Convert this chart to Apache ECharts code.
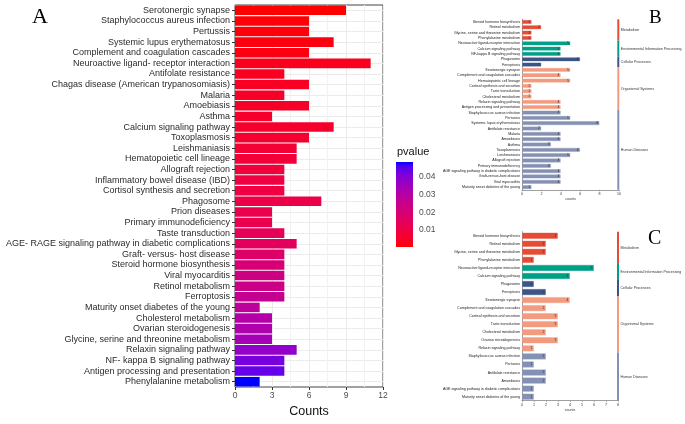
<!DOCTYPE html>
<html><head><meta charset="utf-8">
<script src="https://cdn.jsdelivr.net/npm/echarts@6/dist/echarts.min.js"></script>
<style>html,body{margin:0;padding:0;background:#fff}#c{width:685px;height:424px}</style>
</head><body><div id="c"></div>
<script>
// ---------- Panel A data ----------
const catsA = ['Serotonergic synapse','Staphylococcus aureus infection','Pertussis','Systemic lupus erythematosus','Complement and coagulation cascades','Neuroactive ligand- receptor interaction','Antifolate resistance','Chagas disease (American trypanosomiasis)','Malaria','Amoebiasis','Asthma','Calcium signaling pathway','Toxoplasmosis','Leishmaniasis','Hematopoietic cell lineage','Allograft rejection','Inflammatory bowel disease (IBD)','Cortisol synthesis and secretion','Phagosome','Prion diseases','Primary immunodeficiency','Taste transduction','AGE- RAGE signaling pathway in diabetic complications','Graft- versus- host disease','Steroid hormone biosynthesis','Viral myocarditis','Retinol metabolism','Ferroptosis','Maturity onset diabetes of the young','Cholesterol metabolism','Ovarian steroidogenesis','Glycine, serine and threonine metabolism','Relaxin signaling pathway','NF- kappa B signaling pathway','Antigen processing and presentation','Phenylalanine metabolism'];
const countsA = [9,6,6,8,6,11,4,6,4,6,3,8,6,5,5,4,4,4,7,3,3,4,5,4,4,4,4,4,2,3,3,3,5,4,4,2];
const pvalsA = [0.0002,0.0008,0.0010,0.0015,0.0018,0.0030,0.0035,0.0040,0.0045,0.0048,0.0052,0.0055,0.0060,0.0070,0.0075,0.0085,0.0090,0.0095,0.0105,0.0115,0.0120,0.0140,0.0150,0.0170,0.0200,0.0230,0.0240,0.0260,0.0280,0.0310,0.0320,0.0340,0.0380,0.0420,0.0440,0.0486];
const xTicksA = {min:0, max:12, step:3};
const pTicks = [0.01,0.02,0.03,0.04];

// ---------- Panels B / C data ----------
const groupNames = ['Metabolism','Environmental Information Processing','Cellular Processes','Organismal Systems','Human Diseases'];
const catsB = ['Steroid hormone biosynthesis','Retinol metabolism','Glycine, serine and threonine metabolism','Phenylalanine metabolism','Neuroactive ligand-receptor interaction','Calcium signaling pathway','NF-kappa B signaling pathway','Phagosome','Ferroptosis','Serotonergic synapse','Complement and coagulation cascades','Hematopoietic cell lineage','Cortisol synthesis and secretion','Taste transduction','Cholesterol metabolism','Relaxin signaling pathway','Antigen processing and presentation','Staphylococcus aureus infection','Pertussis','Systemic lupus erythematosus','Antifolate resistance','Malaria','Amoebiasis','Asthma','Toxoplasmosis','Leishmaniasis','Allograft rejection','Primary immunodeficiency','AGE signaling pathway in diabetic complications','Graft-versus-host disease','Viral myocarditis','Maturity onset diabetes of the young'];
const countsB = [1,2,1,1,5,4,4,6,2,5,4,5,1,1,1,4,4,4,5,8,2,4,4,3,6,5,4,3,4,4,4,1];
const groupsB = [0,0,0,0,1,1,1,2,2,3,3,3,3,3,3,3,3,4,4,4,4,4,4,4,4,4,4,4,4,4,4,4];
const xMaxB = 10, xStepB = 2;

const catsC = ['Steroid hormone biosynthesis','Retinol metabolism','Glycine, serine and threonine metabolism','Phenylalanine metabolism','Neuroactive ligand-receptor interaction','Calcium signaling pathway','Phagosome','Ferroptosis','Serotonergic synapse','Complement and coagulation cascades','Cortisol synthesis and secretion','Taste transduction','Cholesterol metabolism','Ovarian steroidogenesis','Relaxin signaling pathway','Staphylococcus aureus infection','Pertussis','Antifolate resistance','Amoebiasis','AGE signaling pathway in diabetic complications','Maturity onset diabetes of the young'];
const countsC = [3,2,2,1,6,4,1,2,4,2,3,3,2,3,1,2,1,2,2,1,1];
const groupsC = [0,0,0,0,1,1,2,2,3,3,3,3,3,3,3,4,4,4,4,4,4];
const xMaxC = 8, xStepC = 1;

// ---------- styling ----------
const groupColors = ['#E64B35','#00A087','#3C5488','#F39B7F','#8491B4'];
const SANS = "'Liberation Sans', Arial, sans-serif";
const SERIF = "'Liberation Serif', 'Times New Roman', serif";

// Lab interpolation red -> blue (like ggplot gradient)
function s2l(c){c/=255;return c<=0.04045?c/12.92:Math.pow((c+0.055)/1.055,2.4);}
function l2s(c){c=Math.max(0,Math.min(1,c));return Math.round(255*(c<=0.0031308?12.92*c:1.055*Math.pow(c,1/2.4)-0.055));}
function toLab(rgb){const r=s2l(rgb[0]),g=s2l(rgb[1]),b=s2l(rgb[2]);
  const X=(0.4124*r+0.3576*g+0.1805*b)/0.95047,Y=0.2126*r+0.7152*g+0.0722*b,Z=(0.0193*r+0.1192*g+0.9505*b)/1.08883;
  const f=t=>t>0.008856?Math.cbrt(t):7.787*t+16/116;const fx=f(X),fy=f(Y),fz=f(Z);
  return [116*fy-16,500*(fx-fy),200*(fy-fz)];}
function fromLab(l){const fy=(l[0]+16)/116,fx=fy+l[1]/500,fz=fy-l[2]/200;
  const fi=t=>t*t*t>0.008856?t*t*t:(t-16/116)/7.787;const X=fi(fx)*0.95047,Y=fi(fy),Z=fi(fz)*1.08883;
  return 'rgb('+l2s(3.2406*X-1.5372*Y-0.4986*Z)+','+l2s(-0.9689*X+1.8758*Y+0.0415*Z)+','+l2s(0.0557*X-0.2040*Y+1.0570*Z)+')';}
const labLo=toLab([255,0,0]), labHi=toLab([0,0,255]);
const N=24, rampColors=[];
for(let i=0;i<=N;i++){const t=i/N;rampColors.push(fromLab([0,1,2].map(k=>labLo[k]+(labHi[k]-labLo[k])*t)));}
const pMin=Math.min(...pvalsA), pMax=Math.max(...pvalsA);

function hexA(h,a){const n=parseInt(h.slice(1),16);return 'rgba('+(n>>16)+','+((n>>8)&255)+','+(n&255)+','+a+')';}

function groupSizes(groups){const s=groupNames.map(()=>0);groups.forEach(g=>s[g]++);return s;}

const chart = echarts.init(document.getElementById('c'), null, {renderer:'canvas'});

const tiny = 3.6;
function sidePanel(gi, cats, counts, groups, xMax, xStep, geom){
  const grids=[{left:geom.left,top:geom.top,width:geom.width,height:geom.height},
               {left:geom.stripX,top:geom.top,width:2,height:geom.height}];
  const xAxes=[{gridIndex:gi,type:'value',min:0,max:xMax,interval:xStep,
      axisLine:{show:true,lineStyle:{color:'#888',width:0.8}},
      axisTick:{show:true,length:1.5,lineStyle:{color:'#888',width:0.6}},
      axisLabel:{fontSize:tiny,color:'#333',margin:2,fontFamily:SANS},
      splitLine:{show:false},
      name:'counts',nameLocation:'middle',nameGap:6.5,nameTextStyle:{fontSize:tiny,color:'#333',fontFamily:SANS}},
    {gridIndex:gi+1,type:'category',data:['s'],show:false}];
  const yAxes=[{gridIndex:gi,type:'category',data:cats,inverse:true,
      axisLine:{show:true,lineStyle:{color:'#888',width:0.8}},
      axisTick:{show:false},
      axisLabel:{fontSize:tiny,color:'#222',margin:2,interval:0,fontFamily:SANS},
      splitLine:{show:false}},
    {gridIndex:gi+1,type:'value',min:0,max:cats.length,inverse:true,show:false}];
  const series=[{type:'bar',xAxisIndex:geom.xi,yAxisIndex:geom.yi,barCategoryGap:'20%',
      data:counts.map((v,i)=>({value:v,itemStyle:{color:groupColors[groups[i]],borderColor:hexA(groupColors[groups[i]],0.35),borderWidth:1}})),
      label:{show:true,position:'insideRight',distance:1.5,fontSize:3.4,color:'#333',fontFamily:SANS}}];
  const sizes=groupSizes(groups);
  sizes.forEach((s,k)=>{ if(!s) return;
    series.push({type:'bar',xAxisIndex:geom.xi+1,yAxisIndex:geom.yi+1,stack:'g'+gi,barWidth:'100%',
      data:[s],itemStyle:{color:groupColors[k]},
      label:{show:true,position:'right',distance:1.5,formatter:groupNames[k],fontSize:tiny,color:'#333',fontFamily:SANS}});
  });
  return {grids,xAxes,yAxes,series};
}

const B = sidePanel(2, catsB, countsB, groupsB, xMaxB, xStepB, {left:522,top:19.3,width:97,height:170.5,stripX:617.3,xi:2,yi:2});
const C = sidePanel(4, catsC, countsC, groupsC, xMaxC, xStepC, {left:522,top:231.7,width:96,height:169,stripX:617,xi:4,yi:4});

const gradStops = rampColors.map((c,i)=>({offset:i/N,color:c}));

const option = {
  animation:false,
  backgroundColor:'#fff',
  textStyle:{fontFamily:SANS},
  grid:[
    {left:235,top:5,width:148,height:382,show:true,borderColor:'#444',borderWidth:1,backgroundColor:'transparent'},
    {left:396,top:162,width:17,height:85}
  ].concat(B.grids, C.grids),
  xAxis:[
    {gridIndex:0,type:'value',min:xTicksA.min,max:xTicksA.max,interval:xTicksA.step,
     axisLine:{show:false},axisTick:{show:true,length:3,lineStyle:{color:'#333'}},
     axisLabel:{fontSize:8.5,color:'#4D4D4D',margin:4},
     splitLine:{show:true,lineStyle:{color:'#EBEBEB',width:1}},
     minorTick:{show:false,splitNumber:2},
     minorSplitLine:{show:true,lineStyle:{color:'#F2F2F2',width:1}},
     name:'Counts',nameLocation:'middle',nameGap:14,nameTextStyle:{fontSize:12.5,color:'#111'}},
    {gridIndex:1,type:'category',data:['p'],show:false}
  ].concat(B.xAxes, C.xAxes),
  yAxis:[
    {gridIndex:0,type:'category',data:catsA,inverse:true,
     axisLine:{show:false},axisTick:{show:true,alignWithLabel:true,length:3,lineStyle:{color:'#333'}},
     axisLabel:{fontSize:9,color:'#2b2b2b',margin:5,interval:0},
     splitLine:{show:true,alignWithLabel:true,lineStyle:{color:'#EBEBEB',width:1}}},
    {gridIndex:1,type:'value',min:pMin,max:pMax,position:'right',
     axisLine:{show:false},
     axisTick:{show:true,inside:true,length:3.5,customValues:pTicks,lineStyle:{color:'#fff',width:1}},
     axisLabel:{show:true,customValues:pTicks,formatter:v=>v.toFixed(2),fontSize:8.5,color:'#4D4D4D',margin:6},
     splitLine:{show:false}},
    {gridIndex:1,type:'value',min:pMin,max:pMax,position:'left',
     axisLine:{show:false},
     axisTick:{show:true,inside:true,length:3.5,customValues:pTicks,lineStyle:{color:'#fff',width:1}},
     axisLabel:{show:false},splitLine:{show:false}}
  ].concat(B.yAxes.map(a=>Object.assign({},a)), C.yAxes),
  visualMap:[{type:'continuous',show:false,seriesIndex:0,dimension:2,min:pMin,max:pMax,inRange:{color:rampColors}}],
  series:[
    {type:'bar',xAxisIndex:0,yAxisIndex:0,barCategoryGap:'10%',encode:{x:0,y:1},
     data:catsA.map((c,i)=>[countsA[i],c,pvalsA[i]])},
    {type:'bar',xAxisIndex:1,yAxisIndex:1,barWidth:'100%',z:1,
     data:[pMax],itemStyle:{color:new echarts.graphic.LinearGradient(0,1,0,0,gradStops)}}
  ].concat(B.series, C.series),
  graphic:[
    {type:'text',left:397,top:146,style:{text:'pvalue',fontSize:11,fill:'#111',fontFamily:SANS}},
    {type:'text',left:32,top:6,style:{text:'A',fontSize:22,fill:'#000',fontFamily:SERIF}},
    {type:'text',left:649,top:9,style:{text:'B',fontSize:19,fill:'#000',fontFamily:SERIF}},
    {type:'text',left:648,top:229,style:{text:'C',fontSize:20,fill:'#000',fontFamily:SERIF}}
  ]
};
// fix yAxis indices for side panels (A uses 0, legend uses 1 and 2)
option.series.slice(2).forEach(s=>{s.yAxisIndex+=1;});
chart.setOption(option);
</script></body></html>
